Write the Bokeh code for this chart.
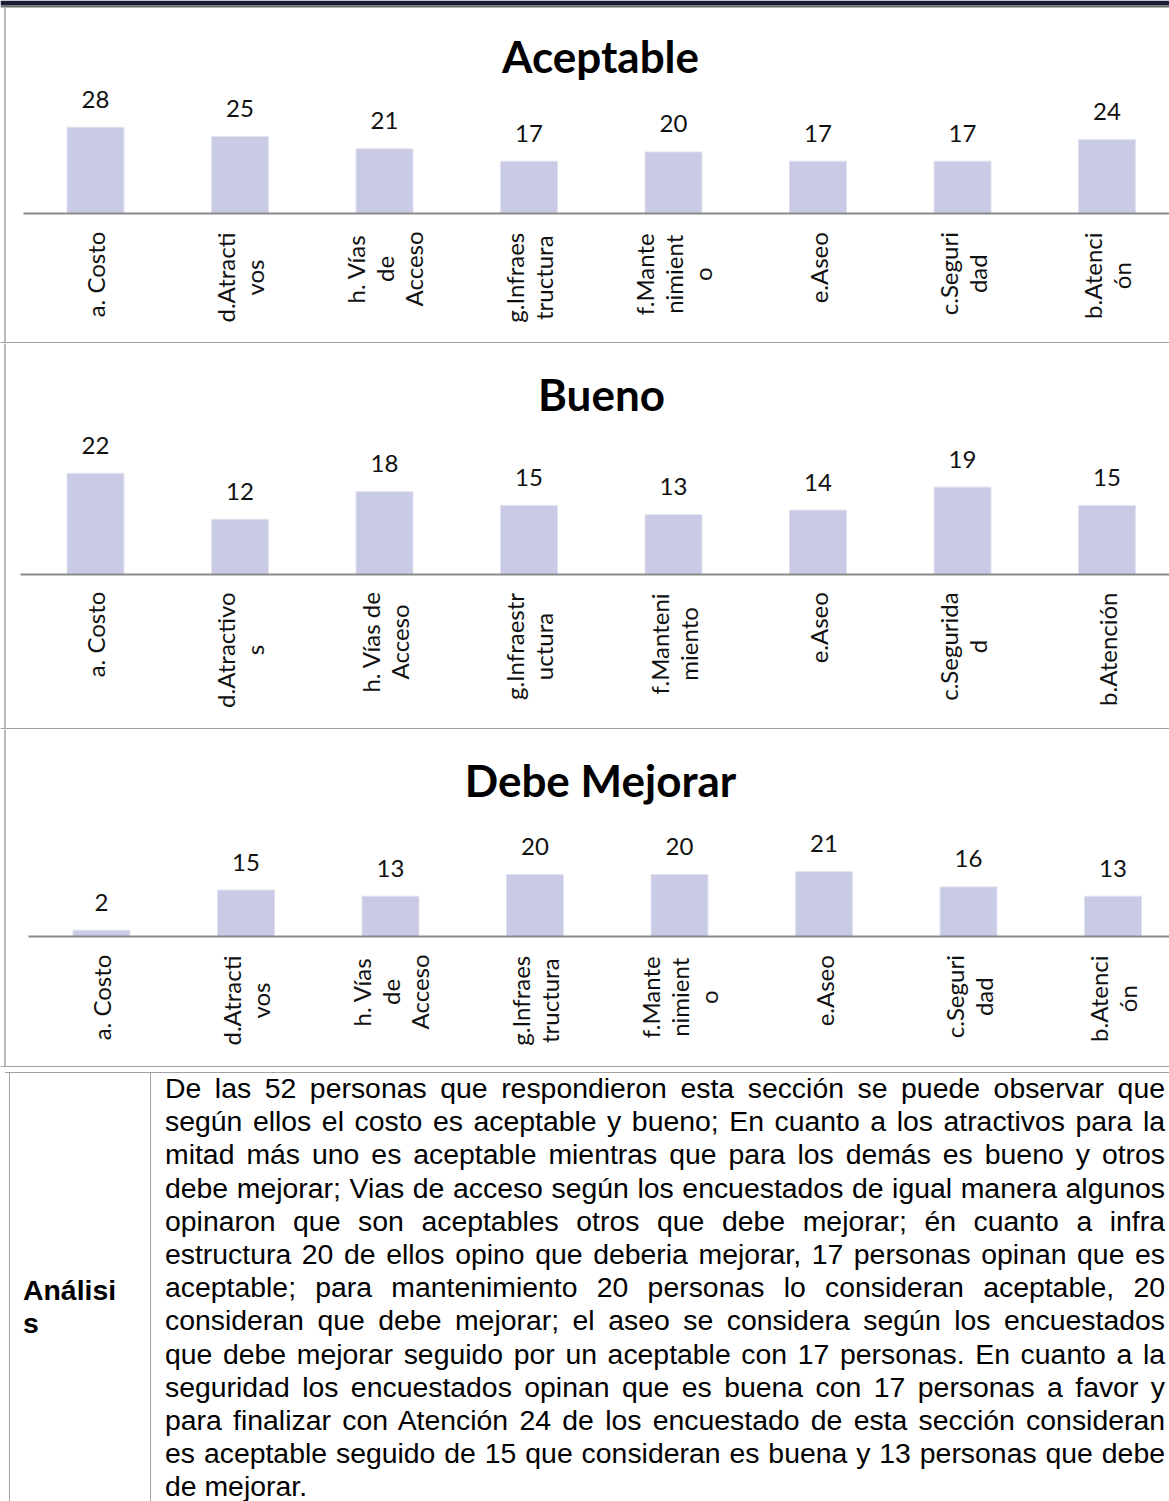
import math
from bokeh.plotting import figure
from bokeh.models import Range1d, ColumnDataSource, Div, GlobalInlineStyleSheet
from bokeh.layouts import column
from bokeh.core.properties import value
from bokeh.embed import file_html
from bokeh.resources import INLINE

# ---------------- data ----------------
categories = ["a. Costo", "d.Atractivos", "h. Vías de Acceso", "g.Infraestructura",
              "f.Mantenimiento", "e.Aseo", "c.Seguridad", "b.Atención"]
aceptable = [28, 25, 21, 17, 20, 17, 17, 24]
bueno = [22, 12, 18, 15, 13, 14, 19, 15]
debe_mejorar = [2, 15, 13, 20, 20, 21, 16, 13]

# tick labels as wrapped in each chart
labels_narrow = ["a. Costo", "d.Atracti\nvos", "h. Vías\nde\nAcceso", "g.Infraes\ntructura",
                 "f.Mante\nnimient\no", "e.Aseo", "c.Seguri\ndad", "b.Atenci\nón"]
labels_wide = ["a. Costo", "d.Atractivo\ns", "h. Vías de\nAcceso", "g.Infraestr\nuctura",
               "f.Manteni\nmiento", "e.Aseo", "c.Segurida\nd", "b.Atención"]
titles = ["Aceptable", "Bueno", "Debe Mejorar"]

analysis_label = ["Análisi", "s"]
analysis_lines = [
    "De las 52 personas que respondieron esta sección se puede observar que",
    "según ellos el costo es aceptable y bueno; En cuanto a los atractivos para la",
    "mitad más uno es aceptable mientras que  para los demás es bueno y otros",
    "debe mejorar; Vias de acceso según los encuestados de igual manera algunos",
    "opinaron que son aceptables otros que debe mejorar; én cuanto a infra",
    "estructura 20 de ellos opino que deberia mejorar, 17 personas opinan que es",
    "aceptable; para mantenimiento 20 personas lo consideran aceptable, 20",
    "consideran que debe mejorar; el aseo se considera según los encuestados",
    "que debe mejorar seguido por un aceptable con 17 personas. En cuanto a la",
    "seguridad los encuestados opinan que es buena con 17 personas a favor y",
    "para finalizar con Atención 24 de los encuestado de esta sección consideran",
    "es aceptable seguido de 15 que consideran es buena y 13 personas que debe",
    "de mejorar.",
]

# ---------------- style ----------------
W = 1169
SLOT = 144.5
BAR_PX = 57
LAB_FS = 24
VAL_FS = 24
TITLE_FS = 44
BAR_COLOR = "#c9cbe6"
GRID_GRAY = "#a3a3a3"
AXIS_GRAY = "#8a8a8a"
FONT = "Lato"

CAL = {'a': 0.479, 'b': 0.525, 'c': 0.423, 'd': 0.525, 'e': 0.498, 'f': 0.305, 'g': 0.471,
       'h': 0.525, 'i': 0.229, 'j': 0.239, 'k': 0.455, 'l': 0.229, 'm': 0.799, 'n': 0.525,
       'o': 0.527, 'p': 0.525, 'q': 0.525, 'r': 0.349, 's': 0.391, 't': 0.335, 'u': 0.525,
       'v': 0.452, 'w': 0.715, 'x': 0.433, 'y': 0.453, 'z': 0.395, ' ': 0.226, '.': 0.252,
       'A': 0.579, 'C': 0.533, 'I': 0.252, 'M': 0.855, 'S': 0.459, 'í': 0.229, 'ó': 0.527}


def text_w(s, fs):
    return sum(CAL.get(ch, 0.5) for ch in s) * fs * 1.07


def chart(title, vals, labels, H, base_px, unit_px, c0, axis_x0, title_cx, title_base,
          gap, band=False):
    y_top = base_px / unit_px
    y_bot = y_top - H / unit_px
    x_lo = -c0 / SLOT
    x_hi = (W - c0) / SLOT

    def px2x(px):
        return (px - c0) / SLOT

    def px2y(py):
        return y_top - py / unit_px

    p = figure(width=W, height=H, x_range=Range1d(x_lo, x_hi), y_range=Range1d(y_bot, y_top),
               output_backend="svg", toolbar_location=None, min_border=0,
               x_axis_type=None, y_axis_type=None, title=None,
               outline_line_color=None, background_fill_color="white",
               border_fill_color="white")
    p.grid.visible = False

    idx = list(range(len(vals)))
    loff = [gap + max(text_w(t, LAB_FS) for t in lab.split("\n")) / 2 for lab in labels]
    src = ColumnDataSource(dict(x=idx, top=vals, txt=[str(v) for v in vals],
                                lab=labels, loff=loff))

    # decoration: table lines
    top_line = 7 if band else 0
    if band:
        p.quad(left=[px2x(0)], right=[px2x(W)], top=[px2y(0)], bottom=[px2y(5)],
               fill_color="#1b1e38", line_color=None)
        p.segment(x0=[px2x(0)], x1=[px2x(W)], y0=[px2y(6)], y1=[px2y(6)],
                  line_color="#6e6e6e", line_width=2)
    p.segment(x0=[px2x(4.5)], x1=[px2x(4.5)], y0=[px2y(top_line)], y1=[px2y(H)],
              line_color=GRID_GRAY, line_width=1.5)
    p.segment(x0=[px2x(0)], x1=[px2x(W)], y0=[px2y(H - 0.8)], y1=[px2y(H - 0.8)],
              line_color=GRID_GRAY, line_width=1.6)

    # bars
    p.vbar(x="x", top="top", bottom=0, width=BAR_PX / SLOT, source=src,
           fill_color=BAR_COLOR, line_color="#e2e2ee", line_width=1)
    # category axis line
    p.segment(x0=[px2x(axis_x0)], y0=[0], x1=[px2x(W)], y1=[0],
              line_color=AXIS_GRAY, line_width=2)
    # value labels
    p.text(x="x", y="top", text="txt", source=src, y_offset=-28,
           text_align="center", text_baseline="alphabetic",
           text_font=value(FONT), text_font_size=f"{VAL_FS}px", text_color="#111111")
    # category labels (rotated)
    p.text(x="x", y=0, text="lab", source=src, angle=math.pi / 2, y_offset="loff",
           text_align="center", text_baseline="middle", text_line_height=1.0,
           text_font=value(FONT), text_font_size=f"{LAB_FS}px", text_color="#111111")
    # title
    p.text(x=[px2x(title_cx)], y=[px2y(title_base)], text=[title],
           text_align="center", text_baseline="alphabetic",
           text_font=value(FONT), text_font_style="bold",
           text_font_size=f"{TITLE_FS}px", text_color="#000000")
    return p


p1 = chart(titles[0], aceptable, labels_narrow, H=343, base_px=213, unit_px=3.08, c0=95,
           axis_x0=23, title_cx=600, title_base=55, gap=19, band=True)
p2 = chart(titles[1], bueno, labels_wide, H=386, base_px=231, unit_px=4.6, c0=95,
           axis_x0=20, title_cx=601, title_base=50, gap=18)
p3 = chart(titles[2], debe_mejorar, labels_narrow, H=338, base_px=207, unit_px=3.1, c0=101,
           axis_x0=28, title_cx=600, title_base=50, gap=19)

HD = 433
body = "".join(
    f'<div style="text-align:justify;text-align-last:justify;">{ln}</div>'
    for ln in analysis_lines[:-1]
) + f'<div style="text-align:left;">{analysis_lines[-1]}</div>'

html = f'''<div style="position:relative;width:{W}px;height:{HD}px;background:#ffffff;font-family:'Liberation Sans',Arial,sans-serif;color:#000;">
<div style="position:absolute;left:0;top:0;width:{W}px;height:0;border-top:1.6px solid {GRID_GRAY};"></div>
<div style="position:absolute;left:4px;top:0;width:0;height:{HD}px;border-left:1.5px solid {GRID_GRAY};"></div>
<div style="position:absolute;left:145px;top:0;width:0;height:{HD}px;border-left:1.5px solid {GRID_GRAY};"></div>
<div style="position:absolute;left:18px;top:202px;font-weight:bold;font-size:28.4px;line-height:33.2px;">{analysis_label[0]}<br>{analysis_label[1]}</div>
<div style="position:absolute;left:160px;top:0px;width:1000px;font-size:28.4px;line-height:33.2px;">{body}</div>
</div>'''

div = Div(text=html, width=W, height=HD)

layout = column(p1, p2, p3, div, spacing=0,
                stylesheets=[GlobalInlineStyleSheet(css="html, body { margin: 0; padding: 0; overflow: hidden; }")])

open("out.html", "w").write(file_html(layout, INLINE))
